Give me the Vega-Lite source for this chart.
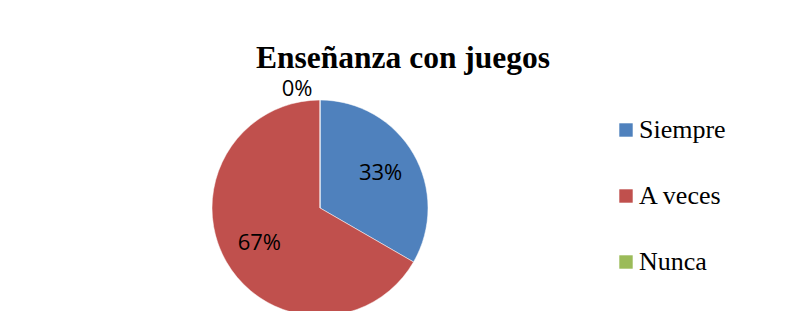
{
  "$schema": "https://vega.github.io/schema/vega-lite/v6.json",
  "autosize": {"type": "none"},
  "width": 640,
  "height": 216,
  "padding": {"left": 0, "top": 100, "right": 145, "bottom": 0},
  "background": "white",
  "config": {"view": {"stroke": null}},
  "title": {
    "text": "Enseñanza con juegos",
    "font": "Liberation Serif",
    "fontSize": 31.5,
    "fontWeight": "bold",
    "color": "black",
    "anchor": "middle",
    "dx": 83,
    "offset": 4
  },
  "data": {
    "values": [
      {"categoria": "Siempre", "orden": 1, "porcentaje": 0.3333},
      {"categoria": "A veces", "orden": 2, "porcentaje": 0.6667},
      {"categoria": "Nunca", "orden": 3, "porcentaje": 0}
    ]
  },
  "encoding": {
    "theta": {"field": "porcentaje", "type": "quantitative", "stack": true},
    "order": {"field": "orden", "type": "quantitative", "sort": "ascending"},
    "color": {
      "field": "categoria",
      "type": "nominal",
      "sort": ["Siempre", "A veces", "Nunca"],
      "scale": {"domain": ["Siempre", "A veces", "Nunca"], "range": ["#4F81BD", "#C0504D", "#9BBB59"]},
      "legend": {
        "title": null,
        "orient": "none",
        "legendX": 613,
        "legendY": 17,
        "padding": 0,
        "symbolType": "square",
        "symbolSize": 180,
        "symbolStrokeWidth": 0,
        "labelFont": "Liberation Serif",
        "labelFontSize": 26,
        "labelColor": "black",
        "labelOffset": 0,
        "rowPadding": 40
      }
    }
  },
  "layer": [
    {
      "mark": {"type": "arc", "outerRadius": 108, "stroke": "white", "strokeWidth": 0.5}
    },
    {
      "transform": [{"filter": "datum.porcentaje > 0"}],
      "mark": {"type": "text", "radius": 70, "font": "Open Sans", "fontSize": 22, "fill": "black"},
      "encoding": {
        "text": {"field": "porcentaje", "type": "quantitative", "format": ".0%"},
        "fill": {"value": "black"}
      }
    },
    {
      "mark": {"type": "text", "radius": 119, "dx": -23, "font": "Open Sans", "fontSize": 22, "fill": "black"},
      "encoding": {
        "text": {"field": "porcentaje", "type": "quantitative", "format": ".0%"},
        "fill": {"value": "black"},
        "opacity": {"condition": {"test": "datum.porcentaje == 0", "value": 1}, "value": 0}
      }
    }
  ]
}
